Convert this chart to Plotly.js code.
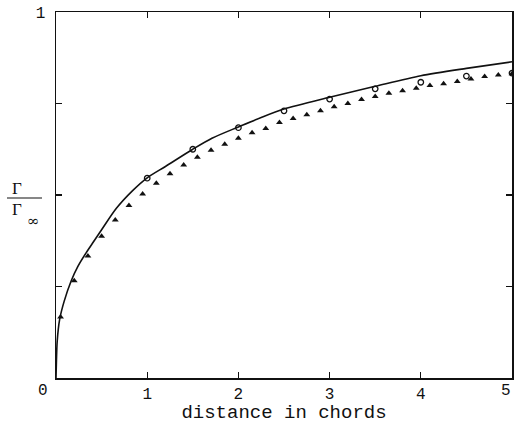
<!DOCTYPE html>
<html>
<head>
<meta charset="utf-8">
<script src="https://cdn.plot.ly/plotly-3.0.1.min.js"></script>
<style>html,body{margin:0;padding:0;background:#fff;overflow:hidden;}#chart{width:514px;height:424px;}</style>
</head>
<body>
<div id="chart"></div>
<script>
// Solid curve (theory)
const curveX = [0, 0.005, 0.013, 0.04, 0.09, 0.166, 0.24, 0.33, 0.40, 0.50, 0.66, 0.84, 1.0, 1.2, 1.5, 1.71, 2.0, 2.25, 2.5, 3.0, 3.5, 4.0, 4.5, 5.0];
const curveY = [0, 0.05, 0.10, 0.16, 0.21, 0.265, 0.305, 0.342, 0.368, 0.405, 0.463, 0.512, 0.547, 0.578, 0.625, 0.655, 0.686, 0.712, 0.735, 0.767, 0.797, 0.826, 0.846, 0.864];

// Open circles
const circleX = [1.0, 1.5, 2.0, 2.5, 3.0, 3.5, 4.0, 4.5, 5.0];
const circleY = [0.546, 0.625, 0.684, 0.730, 0.762, 0.790, 0.808, 0.825, 0.833];

// Filled triangles
const triX = [0.05, 0.2, 0.35, 0.5, 0.65, 0.8, 0.95, 1.1, 1.25, 1.4, 1.55, 1.7, 1.85, 2.0, 2.15, 2.3, 2.45, 2.6, 2.75, 2.9, 3.05, 3.2, 3.35, 3.5, 3.65, 3.8, 3.95, 4.1, 4.25, 4.4, 4.55, 4.7, 4.85, 5.0];
const triY = [0.167, 0.266, 0.333, 0.387, 0.432, 0.471, 0.503, 0.532, 0.558, 0.582, 0.603, 0.622, 0.639, 0.655, 0.670, 0.682, 0.698, 0.709, 0.719, 0.730, 0.741, 0.750, 0.761, 0.769, 0.778, 0.785, 0.792, 0.799, 0.804, 0.810, 0.817, 0.824, 0.828, 0.831];

const xTickVals = [1, 2, 3, 4];
const xTickText = ['1', '2', '3', '4'];
const yTickVals = [0.25, 0.5, 0.75, 1];
const yTickText = ['', '', '', '1'];

const traces = [
  {x: curveX, y: curveY, mode: 'lines', line: {color: '#111', width: 1.6, shape: 'spline', smoothing: 0.8}, hoverinfo: 'skip'},
  {x: triX, y: triY, mode: 'markers', marker: {symbol: 'triangle-up', size: 6, color: '#111'}},
  {x: circleX, y: circleY, mode: 'markers', marker: {symbol: 'circle-open', size: 5.5, color: '#111', line: {width: 1.3, color: '#111'}}}
];

const W = 456, H = 366, L = 56, T = 12;
function px(p) { return (p - L) / W; }
function py(p) { return (T + H - p) / H; }

const monoFont = 'Liberation Mono, Courier New, monospace';

const layout = {
  width: 514, height: 424,
  margin: {l: 56, r: 2, t: 12, b: 46},
  paper_bgcolor: '#fff', plot_bgcolor: '#fff',
  showlegend: false,
  font: {family: monoFont, color: '#111'},
  xaxis: {
    range: [0, 5], tickvals: xTickVals, ticktext: xTickText,
    ticks: 'inside', ticklen: 6, tickwidth: 1.3, tickcolor: '#111',
    showline: true, linecolor: '#111', linewidth: 1.5, mirror: 'ticks',
    showgrid: false, zeroline: false,
    tickfont: {size: 16, family: monoFont},
    title: {text: 'distance in chords', font: {size: 19, family: monoFont}, standoff: 2}
  },
  yaxis: {
    range: [0, 1], tickvals: yTickVals, ticktext: yTickText,
    ticks: 'inside', ticklen: 6, tickwidth: 1.3, tickcolor: '#111',
    showline: true, linecolor: '#111', linewidth: 1.5, mirror: 'ticks',
    showgrid: false, zeroline: false,
    tickfont: {size: 16, family: monoFont},
    ticklabelstandoff: 6
  },
  annotations: [
    {xref: 'paper', yref: 'paper', x: px(43), y: py(391), text: '0', showarrow: false, xanchor: 'center', yanchor: 'middle', font: {size: 16, family: monoFont, color: '#111'}},
    {xref: 'paper', yref: 'paper', x: px(513), y: py(391), text: '5', showarrow: false, xanchor: 'right', yanchor: 'middle', font: {size: 16, family: monoFont, color: '#111'}},
    {xref: 'paper', yref: 'paper', x: px(17), y: py(188), text: 'Γ', showarrow: false, xanchor: 'center', yanchor: 'middle', font: {size: 17, family: 'Liberation Serif, serif', color: '#111'}},
    {xref: 'paper', yref: 'paper', x: px(17), y: py(210), text: 'Γ', showarrow: false, xanchor: 'center', yanchor: 'middle', font: {size: 17, family: 'Liberation Serif, serif', color: '#111'}},
    {xref: 'paper', yref: 'paper', x: px(33), y: py(221), text: '∞', showarrow: false, xanchor: 'center', yanchor: 'middle', font: {size: 15, family: 'DejaVu Serif, serif', color: '#111'}}
  ],
  shapes: [
    {type: 'line', xref: 'paper', yref: 'paper', x0: px(7), x1: px(42), y0: py(198), y1: py(198), line: {color: '#111', width: 1.2}}
  ]
};

Plotly.newPlot('chart', traces, layout, {displayModeBar: false, staticPlot: true});
</script>
</body>
</html>
